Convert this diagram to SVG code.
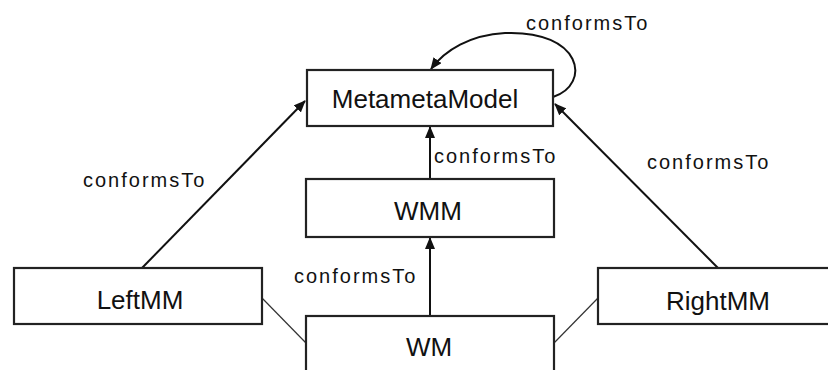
<svg xmlns="http://www.w3.org/2000/svg" width="828" height="370" viewBox="0 0 828 370">
<style>
.box{fill:#fff;stroke:#222;stroke-width:2.2}
.nl{font-family:"Liberation Sans",Arial,sans-serif;font-size:26px;fill:#111;text-anchor:middle}
.el{font-family:"Liberation Sans",Arial,sans-serif;font-size:20px;fill:#111;letter-spacing:2px}
.arr{fill:none;stroke:#111;stroke-width:2;marker-end:url(#ah)}
.ln{fill:none;stroke:#333;stroke-width:1.2}
</style>
<defs>
<marker id="ah" viewBox="0 0 12 10" refX="11" refY="5" markerWidth="12" markerHeight="10" markerUnits="userSpaceOnUse" orient="auto">
<path d="M0,0 L12,5 L0,10 Z" fill="#111"/>
</marker>
</defs>
<rect width="828" height="370" fill="#fff"/>
<g id="connectors">
<path class="arr" d="M142,268 L305,101"/>
<path class="arr" d="M718,268 L555,104"/>
<path class="arr" d="M430,179 L430,127"/>
<path class="arr" d="M430,316 L430,238"/>
<path class="arr" d="M553,97 C592,84 582,30 505,33 C470,35 445,50 431,69"/>
<path class="ln" d="M262,298 L306,343"/>
<path class="ln" d="M598,298 L554,343"/>
<text class="el" x="526" y="30">conformsTo</text>
<text class="el" x="83" y="187">conformsTo</text>
<text class="el" x="434" y="163">conformsTo</text>
<text class="el" x="647" y="169">conformsTo</text>
<text class="el" x="294" y="283">conformsTo</text>
</g>
<g id="MetametaModel">
<rect class="box" x="307" y="70" width="246" height="56"/>
<text class="nl" x="425" y="108">MetametaModel</text>
</g>
<g id="WMM">
<rect class="box" x="306" y="179" width="248" height="58"/>
<text class="nl" x="428" y="220">WMM</text>
</g>
<g id="LeftMM">
<rect class="box" x="14" y="268" width="248" height="56"/>
<text class="nl" x="140" y="309">LeftMM</text>
</g>
<g id="RightMM">
<rect class="box" x="598" y="268" width="240" height="56"/>
<text class="nl" x="718" y="310">RightMM</text>
</g>
<g id="WM">
<rect class="box" x="306" y="316" width="248" height="70"/>
<text class="nl" x="429" y="356">WM</text>
</g>
</svg>
